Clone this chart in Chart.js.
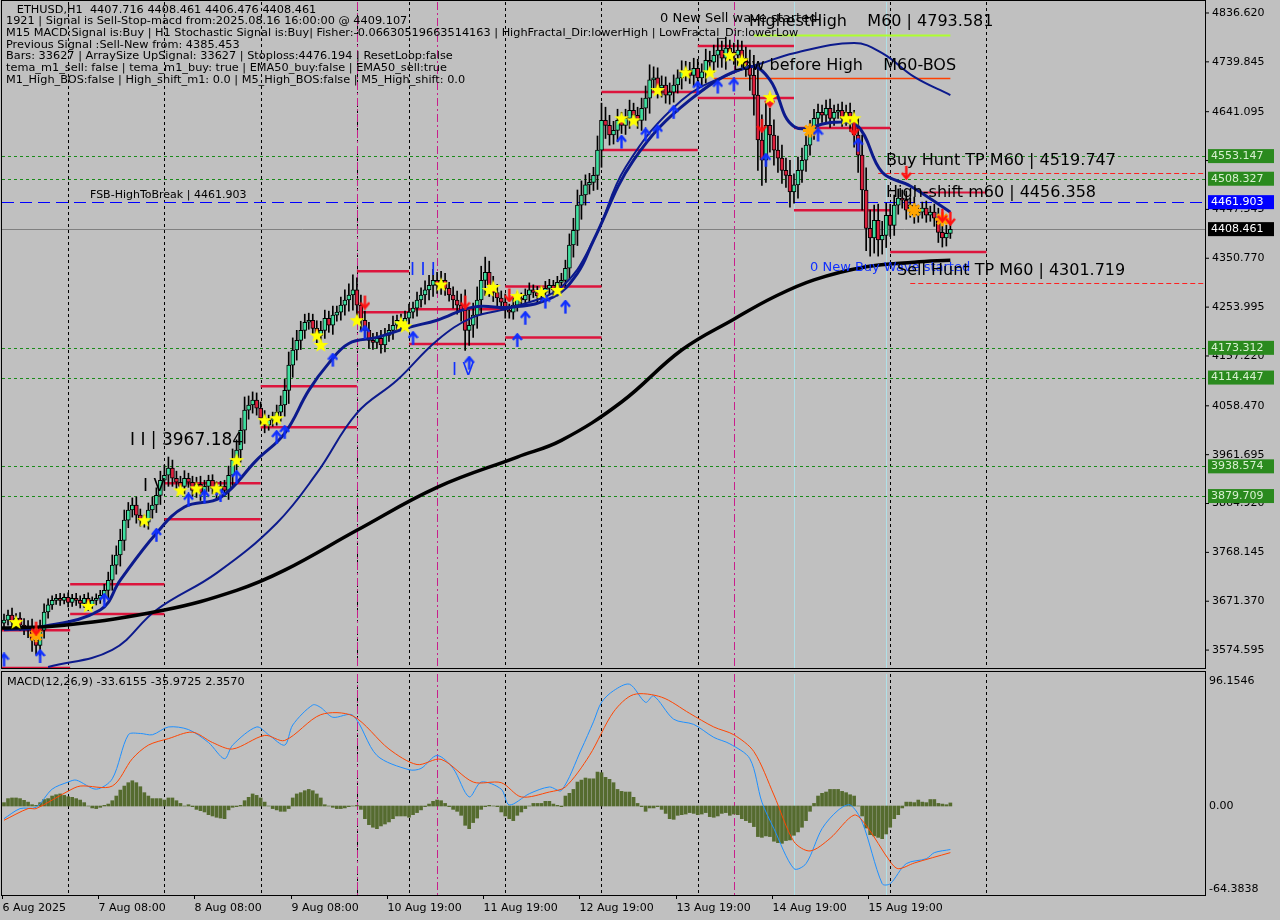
<!DOCTYPE html>
<html>
<head>
<meta charset="utf-8">
<script src="https://cdn.jsdelivr.net/npm/chart.js@4.4.1/dist/chart.umd.min.js"></script>
<style>
  html, body { margin: 0; padding: 0; background: #c0c0c0; }
  canvas { position: absolute; left: 0; }
  #main { top: 0; }
  #macd { top: 670px; }
</style>
</head>
<body>
<canvas id="main" width="1280" height="670"></canvas>
<canvas id="macd" width="1280" height="250"></canvas>
<script>
// hourly closes, ETHUSD H1
const closes = [3634,3644,3630,3638,3624,3618,3614,3594,3584,3614,3650,3664,3673,3677,3673,3679,3669,3677,3673,3667,
  3677,3664,3673,3677,3683,3693,3713,3743,3763,3792,3832,3852,3862,3842,3832,3828,3852,3862,3881,3911,
  3921,3935,3915,3907,3899,3915,3907,3891,3903,3887,3899,3911,3895,3887,3899,3891,3921,3951,3971,4010,
  4050,4060,4070,4054,4034,4020,4030,4034,4046,4060,4089,4139,4169,4188,4208,4224,4228,4212,4198,4208,
  4232,4218,4238,4244,4258,4268,4278,4288,4258,4228,4208,4188,4184,4192,4179,4198,4208,4218,4228,4224,
  4232,4244,4252,4268,4278,4288,4297,4307,4297,4307,4291,4278,4268,4258,4248,4208,4218,4238,4268,4307,
  4323,4297,4283,4272,4264,4248,4244,4258,4272,4268,4278,4288,4283,4276,4283,4291,4297,4288,4303,4307,
  4331,4377,4406,4456,4476,4496,4501,4515,4565,4624,4614,4595,4604,4624,4614,4628,4644,4634,4624,4648,
  4668,4704,4708,4688,4694,4674,4680,4694,4708,4720,4723,4713,4727,4708,4720,4743,4739,4753,4763,4747,
  4767,4759,4753,4763,4747,4733,4713,4674,4585,4545,4614,4595,4565,4549,4525,4515,4482,4496,4525,4545,
  4575,4604,4628,4640,4634,4648,4628,4640,4644,4628,4640,4620,4595,4555,4486,4410,4391,4426,4387,4396,
  4436,4416,4456,4470,4466,4446,4456,4436,4442,4450,4436,4442,4430,4402,4391,4400,4408];
const firstOpen = 3628;
const wicks = [12,10,14,9,11,13,15,22,18,20,16,12,9,8,10,7,9,8,10,9,8,11,7,9,10,12,16,20,18,22,20,15,14,16,12,10,14,16,15,18,
  20,22,16,14,12,15,10,12,14,16,12,10,11,13,10,12,18,22,20,24,26,18,16,14,12,15,10,12,14,18,22,26,24,20,18,16,14,12,15,18,
  16,14,18,12,16,20,22,30,24,20,18,16,14,12,16,14,12,18,10,12,14,16,12,16,14,18,20,22,16,18,14,12,16,18,22,40,30,24,26,28,
  30,22,18,16,14,16,12,14,12,10,12,14,10,12,11,14,12,10,12,14,16,22,24,30,28,20,18,16,28,34,26,20,18,22,16,18,20,14,16,20,
  24,30,22,20,18,16,18,20,16,22,18,16,20,18,16,22,18,20,24,18,22,16,18,20,18,22,30,40,60,50,44,34,30,28,26,24,30,22,26,24,
  22,20,18,16,14,16,18,14,12,16,14,18,24,34,40,44,36,30,32,28,24,22,20,18,16,18,14,16,14,12,14,12,16,20,18,16,10];

// indicator lines: [bar, price]
const emaFastBars = [0,9,24,29,38,45,54,63,70,76,81,86,93,101,108,117,127,137,143,147,157,171,186,191,197,207,213,219,226,236];
const emaFastVals = [3615,3620,3654,3713,3806,3858,3877,3951,4004,4089,4143,4182,4194,4214,4228,4254,4254,4274,4321,4386,4545,4664,4730,4704,4612,4620,4612,4521,4494,4442];
const emaSlowBars = [11,27,38,53,68,78,88,98,108,117,127,139,147,155,169,182,189,197,212,219,227,236];
const emaSlowVals = [3541,3575,3654,3727,3826,3925,4044,4109,4188,4234,4254,4294,4386,4531,4664,4719,4737,4757,4777,4757,4710,4674];
const ma200Bars = [-1,15,40,58,70,88,108,128,139,154,169,182,192,202,215,227,236];
const ma200Vals = [3618,3624,3654,3693,3733,3812,3897,3957,3990,4066,4169,4230,4274,4308,4334,4343,4347];

// signal markers [bar, price]
const starBars = [3,21,35,44,48,53,58,65,68,78,79,88,99,100,109,121,122,128,134,138,154,157,163,170,176,181,184,191,210,212];
const starVals = [3630,3662,3832,3891,3895,3895,3951,4030,4034,4198,4179,4228,4222,4216,4299,4288,4294,4276,4284,4288,4628,4624,4684,4719,4719,4753,4743,4670,4628,4628];
const upBars = [0,9,25,38,46,50,54,58,68,70,82,90,102,116,128,130,135,140,154,160,163,167,173,178,182,190,203,213];
const upVals = [3555,3562,3673,3802,3872,3878,3881,3917,3996,4006,4149,4204,4192,4143,4188,4232,4264,4254,4581,4595,4601,4640,4688,4690,4694,4545,4595,4575];
const downBars = [8,90,115,126,189,191,212,225,234,236];
const downVals = [3618,4264,4264,4278,4614,4664,4608,4521,4436,4430];
const crossBars = [8,201,227,234];
const crossVals = [3604,4604,4446,4428];

// red swing segments: [fromBar, toBar, price]
const swingFrom = [-0.5,-0.5,16.5,16.5,40,40,64,64,88,88,101,101,125,125,149,149,173,173,197,197,221];
const swingTo   = [16.5,16.5,40,40,64,64,88,88,101,101,125,125,149,149,173,173,197,197,221,221,245];
const swingVals = [3539,3614,3705,3646,3905,3834,4097,4016,4325,4244,4250,4181,4295,4194,4680,4565,4771,4668,4609,4446,4363];

// horizontal levels
const greenLevels = [4553.147,4508.327,4173.312,4114.447,3938.574,3879.709];
const fsbLevel = 4461.903;
const lastPrice = 4408.461;
const priceTicks = [4836.620,4739.845,4641.095,4544.320,4447.545,4350.770,4253.995,4157.220,4058.470,3961.695,3864.920,3768.145,3671.370,3574.595];

// time axis
const gridBars = [16,40,64,88,101,125,149,173,197,221,245];
const magentaBars = [88,108,182];
const cyanBars = [197,220];
const timeTickBars = [0,24,48,72,96,120,144,168,192,216];
const timeTickLabels = ["6 Aug 2025","7 Aug 08:00","8 Aug 08:00","9 Aug 08:00","10 Aug 19:00","11 Aug 19:00","12 Aug 19:00","13 Aug 19:00","14 Aug 19:00","15 Aug 19:00"];

// MACD(12,26,9)
const hist = [2.6,5.7,6.2,6.2,5.7,4.4,3,1,0.5,2.6,5,5.7,7.7,8.7,9.3,8.2,7.2,6.7,5.7,4.6,2.6,0,-1.5,-2,-1,0.5,1.5,4.1,7.7,12.3,
  15.4,18,19.5,18,14.9,10.3,7.7,5.7,5.7,5.7,4.6,6.2,6.2,4.1,2,0,1,-0.5,-2.6,-3.6,-4.6,-6.7,-7.7,-8.7,-9.3,-9.8,-3,-1,-0.5,0.5,
  4.1,6.7,9.3,8.2,6.2,3,0,-2,-3,-4.1,-4.1,-2,6.2,9.3,10.3,11.8,12.8,11.8,9.3,6.2,1,0,-1,-2,-2,-1.5,-0.5,0,0.5,-2.6,
  -9.8,-14.4,-16.4,-17.5,-15.4,-13.9,-12.3,-9.8,-7.7,-7.7,-7.7,-8.7,-6.7,-5.1,-3,-0.5,1.5,3.6,4.6,4.1,2,-0.5,-2.6,-4.1,-7.2,-14.9,-17.5,-12.8,-9.3,-2.6,
  -0.5,0.5,0,-0.5,-4.6,-7.7,-9.8,-11.3,-7.2,-4.6,-2,0,2,2,2,3.6,3.6,1.5,0.5,-0.5,7.7,9.8,12.8,18.5,20,21.6,21,21,26.2,25.7,
  22.1,20.6,18,12.8,11.3,10.8,10.8,6.7,2,-0.5,-4.1,-1.5,-1.5,-0.5,-2.6,-5.7,-9.8,-10.3,-7.2,-6.7,-6.2,-5.1,-5.7,-6.7,-6.2,-5.1,-8.2,-8.7,-7.7,-5.7,
  -5.1,-7.2,-6.2,-6.7,-9.8,-11.3,-12.8,-15.9,-23.6,-24.2,-23.1,-23.6,-27.2,-28.3,-28.8,-26.7,-26.2,-22.6,-20,-16.4,-11.3,-4.1,2,7.7,9.8,10.8,12.8,12.8,
  12.8,11.3,10.3,8.7,7.7,0,-7.7,-17,-22.1,-23.1,-24.2,-25.2,-21.6,-16.4,-9.8,-6.7,-1.5,3,3,2.6,4.6,3,2.6,5,5,2,1.5,1,2.357];
const macdBars = [0,4,8,12,16,18,23,27,31,34,37,41,46,51,55,57,63,66,70,72,77,79,82,87,93,101,104,108,112,116,119,124,126,131,136,139,144,147,149,152,156,160,162,167,172,177,181,186,189,192,197,200,204,208,211,214,219,221,225,230,232,236];
const macdVals = [-9.8,-2,-1,13,18.5,20,13,21,55,56,55,61,59,49,36.5,47,61,55,47,62.5,78,76,68.5,70,39,28,29,39,29,7,18.5,13,0.8,9.5,14.7,12,44,65,80,89,94,80,85,67,63,53,48,36.5,3,-17.5,-48.4,-44.5,-17.5,-3.3,0.8,-12.3,-60,-60,-44.5,-40.7,-36,-33.6];
const signalBars = [0,6,8,16,19,27,32,36,41,47,52,57,65,70,79,87,96,103,109,117,124,129,136,140,146,152,157,164,171,177,182,187,192,197,201,206,212,215,221,223,227,236];
const signalVals = [-11,-2,-2,11.5,15.4,15.4,36.5,47,52,57,49,44,54.5,50.6,70.5,69.5,44,32,36,18.5,18,7,10.8,14.7,39,72.6,86,84,71.5,61,55,42,8.5,-27.5,-34.7,-25,-7,-15,-43,-48.4,-44,-36];

const FONT = '"DejaVu Sans", Tahoma, sans-serif';
const xMin = -0.5, xMax = 299.5;

function pts(bars, vals) { return bars.map((b, i) => ({ x: b, y: vals[i] })); }

function makeIcon(w, h, draw) {
  const c = document.createElement("canvas");
  c.width = w; c.height = h;
  draw(c.getContext("2d"));
  return c;
}
const starIcon = makeIcon(16, 16, (g) => {
  g.beginPath();
  for (let k = 0; k < 10; k++) {
    const r = k % 2 ? 3.2 : 7.8, a = -Math.PI / 2 + k * Math.PI / 5;
    g.lineTo(8 + r * Math.cos(a), 8.5 + r * Math.sin(a));
  }
  g.closePath(); g.fillStyle = "#ffff00"; g.fill();
});
function arrowIcon(color, up) {
  return makeIcon(11, 15, (g) => {
    g.save();
    if (!up) { g.translate(0, 15); g.scale(1, -1); }
    g.strokeStyle = color; g.lineWidth = 2.4;
    g.beginPath(); g.moveTo(5.5, 14); g.lineTo(5.5, 3); g.stroke();
    g.beginPath(); g.moveTo(1, 7); g.lineTo(5.5, 1.5); g.lineTo(10, 7); g.stroke();
    g.restore();
  });
}
const upIcon = arrowIcon("#1030ff", true);
const downIcon = arrowIcon("#ff1010", false);

const opens = closes.map((c, i) => (i === 0 ? firstOpen : closes[i - 1]));
const bodyData = closes.map((c, i) => ({ x: i, y: [opens[i], c] }));
const wickData = closes.map((c, i) => ({ x: i, y: [Math.min(opens[i], c) - wicks[i], Math.max(opens[i], c) + wicks[i]] }));
const bodyColors = closes.map((c, i) => (c >= opens[i] ? "#3fe0a0" : "#dc1f3c"));

const swingSets = swingVals.map((v, i) => ({
  type: "line", data: [{ x: swingFrom[i], y: v }, { x: swingTo[i], y: v }],
  borderColor: "#dc143c", borderWidth: 2.5, pointRadius: 0, order: 5
}));

function vLines(g, area, scale, bars, color, dash, width) {
  g.save(); g.strokeStyle = color; g.setLineDash(dash); g.lineWidth = width;
  bars.forEach((b) => {
    const x = Math.round(scale.getPixelForValue(b)) + 0.5;
    g.beginPath(); g.moveTo(x, area.top); g.lineTo(x, area.bottom); g.stroke();
  });
  g.restore();
}
function hLine(g, area, y, color, dash, width, x0, x1) {
  g.save(); g.strokeStyle = color; g.setLineDash(dash); g.lineWidth = width;
  y = Math.round(y) + 0.5;
  g.beginPath(); g.moveTo(x0 ?? area.left, y); g.lineTo(x1 ?? area.right, y); g.stroke();
  g.restore();
}
function badge(g, area, y, text, bg, fg) {
  g.fillStyle = bg; g.fillRect(area.right + 3, y - 7, 66, 14);
  g.fillStyle = fg; g.font = "11px " + FONT; g.textBaseline = "middle"; g.textAlign = "left";
  g.fillText(text, area.right + 6, y);
}

const mainBack = {
  id: "mainBack",
  beforeDatasetsDraw(chart) {
    const g = chart.ctx, a = chart.chartArea, xs = chart.scales.x, ys = chart.scales.y;
    vLines(g, a, xs, gridBars, "#000", [3, 3], 1);
    vLines(g, a, xs, magentaBars, "#c81e8c", [8, 3, 2, 3], 1);
    vLines(g, a, xs, cyanBars, "#b0e0e8", [], 1);
    greenLevels.forEach((v) => hLine(g, a, ys.getPixelForValue(v), "#1a8a1a", [3, 3], 1));
    hLine(g, a, ys.getPixelForValue(fsbLevel), "#0000ff", [12, 6], 1);
    hLine(g, a, ys.getPixelForValue(lastPrice), "#808080", [], 1);
    hLine(g, a, ys.getPixelForValue(4519.747), "#ff2020", [5, 3], 1, xs.getPixelForValue(218), a.right);
    hLine(g, a, ys.getPixelForValue(4301.719), "#ff2020", [5, 3], 1, xs.getPixelForValue(226), a.right);
    hLine(g, a, ys.getPixelForValue(4482), "#dc143c", [], 2, xs.getPixelForValue(229), xs.getPixelForValue(245));
    hLine(g, a, ys.getPixelForValue(4708), "#ff4000", [], 1.5, xs.getPixelForValue(177), xs.getPixelForValue(236));
    hLine(g, a, ys.getPixelForValue(4793.581), "#adff2f", [], 2, xs.getPixelForValue(187), xs.getPixelForValue(236));
  },
  afterDraw(chart) {
    const g = chart.ctx, a = chart.chartArea, xs = chart.scales.x, ys = chart.scales.y;
    g.save();
    g.strokeStyle = "#000"; g.lineWidth = 1;
    g.strokeRect(a.left - 0.5, 0.5, a.right - a.left + 1, 668);
    g.fillStyle = "#000"; g.font = "11px " + FONT; g.textBaseline = "middle";
    priceTicks.forEach((v) => {
      const y = ys.getPixelForValue(v);
      g.beginPath(); g.moveTo(a.right, y); g.lineTo(a.right + 4, y); g.stroke();
      g.fillText(v.toFixed(3), a.right + 7, y);
    });
    greenLevels.forEach((v) => badge(g, a, ys.getPixelForValue(v), v.toFixed(3), "#2a8a1e", "#d8f0d0"));
    badge(g, a, ys.getPixelForValue(fsbLevel), fsbLevel.toFixed(3), "#0000ff", "#ffffff");
    badge(g, a, ys.getPixelForValue(lastPrice), lastPrice.toFixed(3), "#000000", "#ffffff");

    const header = ["   ETHUSD,H1  4407.716 4408.461 4406.476 4408.461",
      "1921 | Signal is Sell-Stop-macd from:2025.08.16 16:00:00 @ 4409.107",
      "M15 MACD:Signal is:Buy | H1 Stochastic Signal is:Buy| Fisher:-0.06630519663514163 | HighFractal_Dir:lowerHigh | LowFractal_Dir:lowerLow",
      "Previous Signal :Sell-New from: 4385.453",
      "Bars: 33627 | ArraySize UpSignal: 33627 | Stoploss:4476.194 | ResetLoop:false",
      "tema_m1_sell: false | tema_m1_buy: true | EMA50_buy:false | EMA50_sell:true",
      "M1_High_BOS:false | High_shift_m1: 0.0 | M5_High_BOS:false | M5_High_shift: 0.0"];
    g.font = "11.3px " + FONT; g.textBaseline = "top"; g.fillStyle = "#000";
    header.forEach((t, i) => g.fillText(t, 6, 4 + i * 11.7));

    const label = (t, x, y, size, color) => {
      g.font = size + "px " + FONT; g.fillStyle = color; g.textBaseline = "middle"; g.fillText(t, x, y);
    };
    label("FSB-HighToBreak | 4461.903", 90, 195, 11, "#000");
    label("I I | 3967.184", 130, 441, 17, "#000");
    label("I V", 143, 487, 17, "#000");
    label("I I I", 410, 271, 17, "#1030ff");
    label("I V", 452, 371, 17, "#1030ff");
    label("0 New Sell wave started", 660, 19, 13, "#000");
    label("HighestHigh    M60 | 4793.581", 749, 22, 16, "#000");
    label("Low before High    M60-BOS", 733, 66, 16, "#000");
    label("Buy Hunt TP M60 | 4519.747", 886, 161, 16, "#000");
    label("High-shift m60 | 4456.358", 886, 193, 16, "#000");
    label("0 New Buy Wave started", 810, 268, 13, "#1030ff");
    label("Sell Hunt TP M60 | 4301.719", 897, 271, 16, "#000");
    g.restore();
  }
};

new Chart(document.getElementById("main"), {
  type: "bar",
  data: {
    datasets: [
      { data: wickData, backgroundColor: "#000", barThickness: 1, grouped: false, order: 4 },
      { data: bodyData, backgroundColor: bodyColors, borderColor: "#000", borderWidth: 1, borderSkipped: false, barThickness: 4, grouped: false, order: 3 },
      { type: "line", data: pts(ma200Bars, ma200Vals), borderColor: "#000", borderWidth: 3.5, pointRadius: 0, tension: 0.4, order: 2 },
      { type: "line", data: pts(emaSlowBars, emaSlowVals), borderColor: "#0c1a8c", borderWidth: 2, pointRadius: 0, tension: 0.4, order: 2 },
      { type: "line", data: pts(emaFastBars, emaFastVals), borderColor: "#0c1a8c", borderWidth: 3, pointRadius: 0, tension: 0.4, order: 2 },
      ...swingSets,
      { type: "scatter", data: pts(starBars, starVals), pointStyle: starIcon, order: 1 },
      { type: "scatter", data: pts(upBars, upVals), pointStyle: upIcon, order: 1 },
      { type: "scatter", data: pts(downBars, downVals), pointStyle: downIcon, order: 1 },
      { type: "scatter", data: pts(crossBars, crossVals), pointStyle: "star", radius: 7, borderColor: "#ffa500", borderWidth: 3, order: 1 }
    ]
  },
  options: {
    responsive: false, animation: false, devicePixelRatio: 1,
    layout: { autoPadding: false, padding: { left: 2, right: 75, top: 2, bottom: 2 } },
    plugins: { legend: { display: false }, tooltip: { enabled: false } },
    scales: {
      x: { type: "linear", min: xMin, max: xMax, offset: false, bounds: "data", display: false },
      y: { min: 3539.1, max: 4858.4, display: false }
    }
  },
  plugins: [mainBack]
});

const macdBack = {
  id: "macdBack",
  beforeDatasetsDraw(chart) {
    const g = chart.ctx, a = chart.chartArea, xs = chart.scales.x;
    vLines(g, a, xs, gridBars, "#000", [3, 3], 1);
    vLines(g, a, xs, magentaBars, "#c81e8c", [8, 3, 2, 3], 1);
    vLines(g, a, xs, cyanBars, "#b0e0e8", [], 1);
  },
  afterDraw(chart) {
    const g = chart.ctx, a = chart.chartArea, xs = chart.scales.x, ys = chart.scales.y;
    g.save();
    g.strokeStyle = "#000"; g.lineWidth = 1;
    g.strokeRect(a.left - 0.5, 1.5, a.right - a.left + 1, a.bottom - 1);
    g.fillStyle = "#000"; g.font = "11px " + FONT; g.textBaseline = "middle";
    [[96.1546, "96.1546"], [0, "0.00"], [-64.3838, "-64.3838"]].forEach(([v, t]) => {
      g.fillText(t, a.right + 4, ys.getPixelForValue(v));
    });
    g.textBaseline = "top";
    timeTickBars.forEach((b, i) => {
      const x = Math.round(xs.getPixelForValue(b) - 2) + 0.5;
      g.beginPath(); g.moveTo(x, a.bottom); g.lineTo(x, a.bottom + 4); g.stroke();
      g.fillText(timeTickLabels[i], x, a.bottom + 8);
    });
    g.font = "11.3px " + FONT;
    g.fillText("MACD(12,26,9) -33.6155 -35.9725 2.3570", 7, 6);
    g.restore();
  }
};

new Chart(document.getElementById("macd"), {
  type: "bar",
  data: {
    datasets: [
      { data: hist.map((v, i) => ({ x: i, y: v })), backgroundColor: "#556b2f", barThickness: 3, order: 2 },
      { type: "line", data: pts(signalBars, signalVals), borderColor: "#ff4500", borderWidth: 1, pointRadius: 0, tension: 0.3, order: 1 },
      { type: "line", data: pts(macdBars, macdVals), borderColor: "#1e90ff", borderWidth: 1, pointRadius: 0, tension: 0.3, order: 1 }
    ]
  },
  options: {
    responsive: false, animation: false, devicePixelRatio: 1,
    layout: { autoPadding: false, padding: { left: 2, right: 75, top: 4, bottom: 25 } },
    plugins: { legend: { display: false }, tooltip: { enabled: false } },
    scales: {
      x: { type: "linear", min: xMin, max: xMax, offset: false, bounds: "data", display: false },
      y: { min: -68.7, max: 101.9, display: false }
    }
  },
  plugins: [macdBack]
});
</script>
</body>
</html>
